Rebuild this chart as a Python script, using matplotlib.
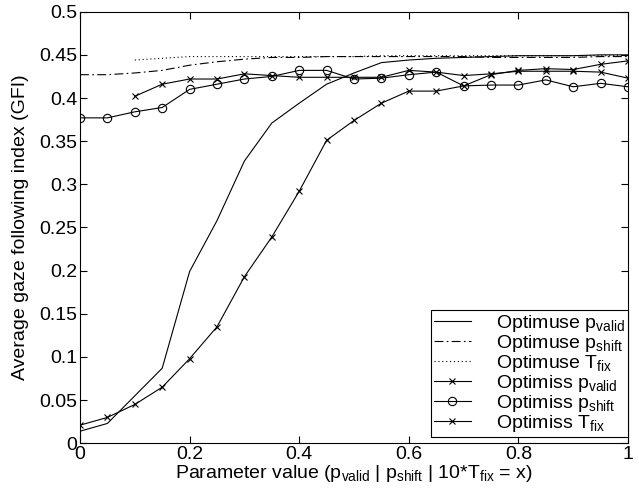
import matplotlib
matplotlib.use("Agg")
import matplotlib.pyplot as plt
import numpy as np

plt.rcParams["font.family"] = ["Liberation Sans", "DejaVu Sans"]
plt.rcParams["mathtext.fontset"] = "custom"
plt.rcParams["mathtext.rm"] = "Liberation Sans"
plt.rcParams["mathtext.it"] = "Liberation Sans"

# parameter values
x_full = np.round(np.arange(0, 1.0001, 0.05), 2)
x_tfix = np.round(np.arange(0.1, 1.0001, 0.05), 2)

use_pvalid = [0.014, 0.023, 0.055, 0.087, 0.199, 0.258, 0.327, 0.371, 0.394, 0.416, 0.429,
              0.441, 0.444, 0.446, 0.447, 0.448, 0.449, 0.449, 0.449, 0.450, 0.450]
use_pshift = [0.427, 0.427, 0.429, 0.432, 0.438, 0.442, 0.445, 0.447, 0.447, 0.448, 0.448,
              0.448, 0.448, 0.448, 0.448, 0.447, 0.447, 0.447, 0.447, 0.448, 0.448]
use_tfix = [0.444, 0.446, 0.448, 0.448, 0.448, 0.448, 0.448, 0.448, 0.448, 0.449,
            0.449, 0.449, 0.449, 0.449, 0.449, 0.449, 0.449, 0.449, 0.449]

miss_pvalid = [0.021, 0.030, 0.045, 0.065, 0.098, 0.135, 0.193, 0.239, 0.292, 0.351, 0.374,
               0.394, 0.408, 0.408, 0.414, 0.427, 0.432, 0.434, 0.433, 0.439, 0.443]
miss_pshift = [0.377, 0.377, 0.384, 0.389, 0.410, 0.416, 0.422, 0.425, 0.432, 0.432, 0.422,
               0.423, 0.427, 0.430, 0.414, 0.415, 0.415, 0.421, 0.413, 0.417, 0.413]
miss_tfix = [0.402, 0.416, 0.422, 0.422, 0.428, 0.426, 0.424, 0.424, 0.424, 0.424,
             0.432, 0.430, 0.426, 0.428, 0.431, 0.431, 0.431, 0.430, 0.423]

fig = plt.figure(figsize=(6.39, 4.93), dpi=100)
ax = fig.add_axes([0.1252, 0.1008, 0.8576, 0.8755])

lw = 0.8
ax.plot(x_full, use_pvalid, color="k", lw=lw, ls="-", label=r"Optimuse p$_{\rm valid}$")
ax.plot(x_full, use_pshift, color="k", lw=lw, ls=(0, (8, 3, 1.5, 3)), label=r"Optimuse p$_{\rm shift}$")
ax.plot(x_tfix, use_tfix, color="k", lw=lw, ls=(0, (1, 2.5)), label=r"Optimuse T$_{\rm fix}$")
ax.plot(x_full, miss_pvalid, color="k", lw=lw, marker="x", ms=4, mew=0.8,
        label=r"Optimiss p$_{\rm valid}$")
ax.plot(x_full, miss_pshift, color="k", lw=lw, marker="o", ms=6, mew=0.8, mfc="none",
        label=r"Optimiss p$_{\rm shift}$")
ax.plot(x_tfix, miss_tfix, color="k", lw=lw, marker="x", ms=4, mew=0.8,
        label=r"Optimiss T$_{\rm fix}$")

ax.set_xlim(0, 1)
ax.set_ylim(0, 0.5)
ax.set_xticks([0, 0.2, 0.4, 0.6, 0.8, 1])
ax.set_xticklabels(["0", "0.2", "0.4", "0.6", "0.8", "1"])
ax.set_yticks(np.round(np.arange(0, 0.501, 0.05), 2))
ax.set_yticklabels(["0", "0.05", "0.1", "0.15", "0.2", "0.25", "0.3", "0.35", "0.4", "0.45", "0.5"])
ax.tick_params(direction="in", top=True, right=True, labelsize=14, length=5, width=0.8, pad=2)
for s in ax.spines.values():
    s.set_linewidth(0.8)

ax.set_xlabel(r"Parameter value (p$_{\rm valid}$ | p$_{\rm shift}$ | 10*T$_{\rm fix}$ = x)",
              fontsize=14, labelpad=0)
ax.set_ylabel("Average gaze following index (GFI)", fontsize=14, labelpad=7)

leg = ax.legend(loc="lower right", bbox_to_anchor=(1.0, 0.015), fontsize=14,
                fancybox=False, edgecolor="k", framealpha=1, borderaxespad=0,
                handlelength=1.9, labelspacing=-0.05, borderpad=0.15, handletextpad=1.3)
leg.get_frame().set_linewidth(0.8)

fig.savefig("out.png", dpi=100)
